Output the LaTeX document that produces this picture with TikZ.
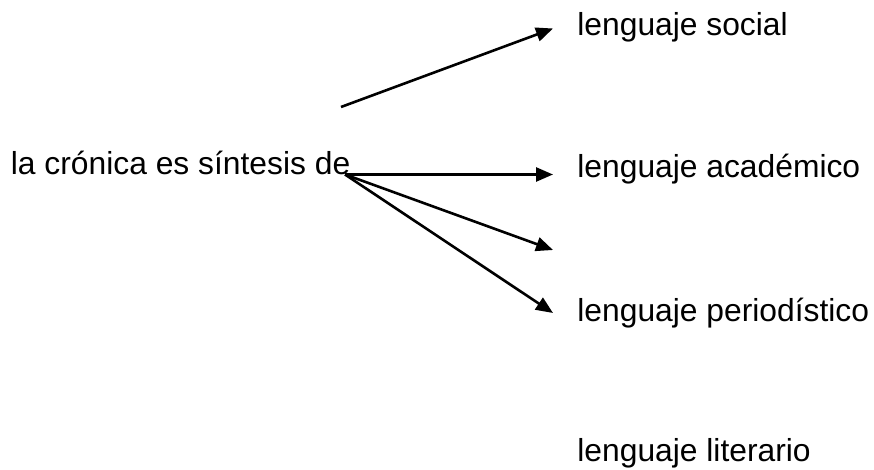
\documentclass[tikz,border=0pt]{standalone}
\usepackage{fontspec}
\setmainfont{Liberation Sans}
\usetikzlibrary{arrows.meta}
\begin{document}
\begin{tikzpicture}[x=0.5pt,y=-0.5pt,
  lbl/.style={anchor=base west,inner sep=0pt,font=\fontsize{15.9}{18}\selectfont},
  arr/.style={line width=1.3pt,-{Triangle[length=8.5pt,width=7pt]}}]
\useasboundingbox (0,0) rectangle (874,470);
\node[lbl] (src) at (10.5,175) {la crónica es síntesis de};
\node[lbl] (soc) at (577,36) {lenguaje social};
\node[lbl] (aca) at (577,178) {lenguaje académico};
\node[lbl] (per) at (577,322) {lenguaje periodístico};
\node[lbl] (lit) at (577,462) {lenguaje literario};
\coordinate (o) at (345,174.5);
\coordinate (t0) at (341,107);
\coordinate (h0) at (553,28.5);
\coordinate (h1) at (553,174.5);
\coordinate (h2) at (553,250);
\coordinate (h3) at (553,313);
\draw[arr] (t0) -- (h0);
\draw[arr] (o) -- (h1);
\draw[arr] (o) -- (h2);
\draw[arr] (o) -- (h3);
\end{tikzpicture}
\end{document}
